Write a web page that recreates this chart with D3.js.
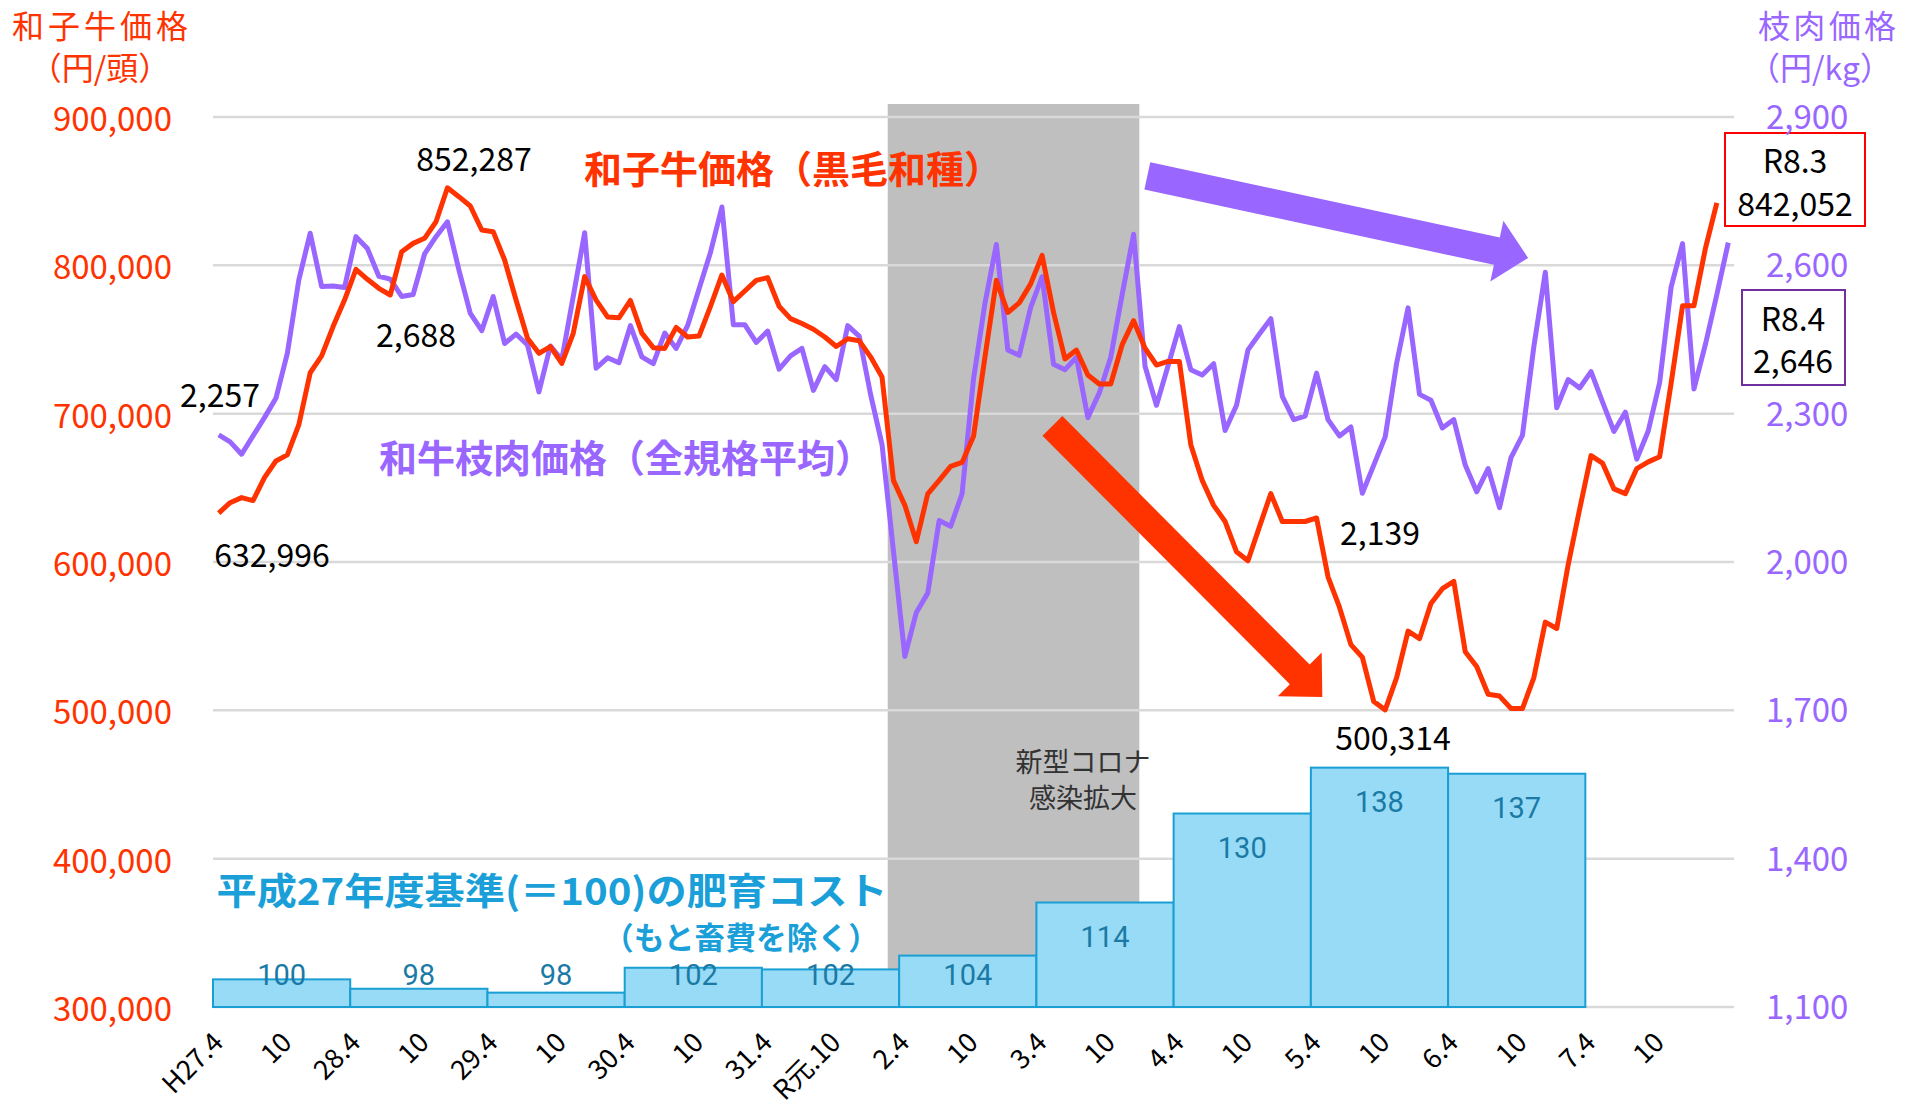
<!DOCTYPE html>
<html>
<head>
<meta charset="utf-8">
<script src="https://cdn.jsdelivr.net/npm/d3@7"></script>
<style>
  html, body { margin: 0; padding: 0; background: #fff; }
  svg { display: block; }
  text { font-family: "Noto Sans CJK JP", "Noto Sans", sans-serif; }
</style>
</head>
<body>
<div id="chart"></div>
<script>
// monthly, H27.4 .. R8.3 (red) / R8.4 (purple)
var calfPrice = [
  632996, 640000, 643400, 641400, 656900, 668100, 672200, 692400, 727600, 738900, 758700, 776600,
  797300, 790600, 784500, 780000, 809200, 814800, 818200, 829400, 852287, 846300, 840000, 823800,
  822700, 803600, 776600, 750800, 740700, 745200, 733900, 754200, 792400, 776600, 765200, 764600,
  776300, 754300, 744500, 744000, 758200, 751700, 752300, 772400, 793500, 775500, 782700, 789900,
  791700, 772400, 764100, 760800, 756900, 751700, 745300, 750500, 749200, 738300, 724700, 655000,
  638200, 613700, 646000, 655000, 664500, 667100, 684700, 738100, 789900, 768200, 774700, 787500,
  806700, 768200, 736900, 742900, 726100, 720000, 720000, 746500, 762700, 744100, 732800, 735200,
  735200, 679100, 655000, 638200, 627300, 606900, 600800, 623700, 646100, 627300, 627300, 627300,
  629700, 590000, 569500, 544300, 535800, 505900, 500314, 522100, 553400, 548300, 572000, 582000,
  586900, 539500, 529600, 510800, 509600, 501200, 501200, 522100, 559500, 555200, 598200, 635600,
  671700, 666700, 649300, 646100, 663000, 667500, 671000, 720400, 772700, 772700, 811400, 842052
];
var carcassPrice = [
  2257, 2243, 2218, 2255, 2292, 2331, 2422, 2570, 2665, 2557, 2558, 2555,
  2658, 2634, 2578, 2572, 2537, 2541, 2623, 2658, 2688, 2591, 2503, 2468,
  2537, 2442, 2461, 2439, 2344, 2437, 2409, 2537, 2666, 2392, 2413, 2403,
  2478, 2415, 2401, 2463, 2432, 2478, 2552, 2626, 2718, 2480, 2480, 2444,
  2467, 2390, 2417, 2432, 2347, 2395, 2369, 2478, 2457, 2339, 2238, 2022,
  1809, 1898, 1937, 2084, 2072, 2138, 2370, 2523, 2642, 2429, 2418, 2515,
  2577, 2400, 2389, 2414, 2292, 2342, 2414, 2541, 2663, 2396, 2317, 2396,
  2476, 2389, 2378, 2401, 2266, 2317, 2429, 2461, 2492, 2335, 2288, 2295,
  2382, 2288, 2255, 2273, 2139, 2196, 2253, 2402, 2514, 2339, 2327, 2271,
  2288, 2196, 2142, 2189, 2110, 2211, 2256, 2436, 2586, 2312, 2369, 2352,
  2385, 2324, 2264, 2303, 2208, 2265, 2363, 2556, 2644, 2350, 2440, 2541,
  2646
];
// fattening cost index by fiscal year (H27 = 100), H27 .. R6
var costIndex = [100.0, 98.3, 97.6, 102.1, 101.8, 104.3, 113.9, 130.0, 138.3, 137.2];

var tickLabels = ["H27.4", "10", "28.4", "10", "29.4", "10", "30.4", "10", "31.4", "R元.10",
  "2.4", "10", "3.4", "10", "4.4", "10", "5.4", "10", "6.4", "10", "7.4", "10"];
var leftTicks = [300000, 400000, 500000, 600000, 700000, 800000, 900000];
var rightTicks = [1100, 1400, 1700, 2000, 2300, 2600, 2900];

// labelled points: [month index, label x, label y]
var calfNotes = [[0, 272, 553], [20, 474, 157], [102, 1393, 736]];
var carcassNotes = [[0, 220, 393], [20, 416, 333], [100, 1380, 531]];
var covidBand = [59, 81];   // R2.3 .. R3.12

var W = 1916, H = 1109;
var RED = "#ff3300", PURPLE = "#9966ff", BLUE = "#1a9fd8";
var nMonths = carcassPrice.length;

var svg = d3.select("#chart").append("svg").attr("width", W).attr("height", H);

// month position (fractional months allowed for annotations)
var x = d3.scaleLinear().domain([0, nMonths]).range([213, 1734]);
var xc = function(i) { return x(i + 0.5); };
var yL = d3.scaleLinear().domain([300000, 900000]).range([1007, 117]);
var yR = d3.scaleLinear().domain([1100, 2900]).range([1007, 117]);
var yC = d3.scaleLinear().domain([95, 256]).range([1007, 117]);

// covid band
svg.append("rect")
  .attr("x", x(covidBand[0])).attr("width", x(covidBand[1]) - x(covidBand[0]))
  .attr("y", 104).attr("height", 1007 - 104)
  .attr("fill", "#bfbfbf");

// gridlines
svg.append("g").selectAll("line").data(leftTicks).enter().append("line")
  .attr("x1", 213).attr("x2", 1734)
  .attr("y1", function(d) { return yL(d); }).attr("y2", function(d) { return yL(d); })
  .attr("stroke", "#d9d9d9").attr("stroke-width", 2.5);

// cost bars
var bars = svg.append("g");
bars.selectAll("rect").data(costIndex).enter().append("rect")
  .attr("x", function(d, i) { return x(i * 12); })
  .attr("width", function(d, i) { return x(i * 12 + 12) - x(i * 12); })
  .attr("y", function(d) { return yC(d); })
  .attr("height", function(d) { return 1007 - yC(d); })
  .attr("fill", "#97dbf6").attr("stroke", "#1a9fd4").attr("stroke-width", 2);
bars.selectAll("text").data(costIndex).enter().append("text")
  .attr("x", function(d, i) { return x(i * 12 + 6); })
  .attr("y", function(d) { return Math.min(yC(d) + 34, 975); })
  .attr("text-anchor", "middle").attr("dominant-baseline", "central")
  .style("font-family", "'Liberation Sans Narrow', 'Roboto', sans-serif")
  .style("font-size", "29px").attr("fill", "#1b7aa5")
  .text(function(d) { return Math.round(d); });

// lines
var lineL = d3.line().x(function(d, i) { return xc(i); }).y(function(d) { return yL(d); });
var lineR = d3.line().x(function(d, i) { return xc(i); }).y(function(d) { return yR(d); });
svg.append("path").datum(carcassPrice).attr("d", lineR)
  .attr("fill", "none").attr("stroke", PURPLE).attr("stroke-width", 5).attr("stroke-linejoin", "round");
svg.append("path").datum(calfPrice).attr("d", lineL)
  .attr("fill", "none").attr("stroke", RED).attr("stroke-width", 5).attr("stroke-linejoin", "round");

// block arrows (tail / tip given in data space)
function arrow(x1, y1, x2, y2, color) {
  var dx = x2 - x1, dy = y2 - y1, len = Math.sqrt(dx * dx + dy * dy);
  var ux = dx / len, uy = dy / len, px = -uy, py = ux;
  var sw = 14, hw = 31, hl = 32;
  var bx = x2 - ux * hl, by = y2 - uy * hl;
  var pts = [
    [x1 + px * sw, y1 + py * sw], [bx + px * sw, by + py * sw], [bx + px * hw, by + py * hw],
    [x2, y2], [bx - px * hw, by - py * hw], [bx - px * sw, by - py * sw], [x1 - px * sw, y1 - py * sw]
  ];
  svg.append("polygon").attr("points", pts.map(function(p) { return p.join(","); }).join(" "))
    .attr("fill", color);
}
arrow(xc(72.9), yL(691700), xc(96.5), yL(509000), RED);
arrow(xc(81.2), yR(2781), xc(114.5), yR(2615), PURPLE);

function label(tx, ty, str, size, color, weight, anchor) {
  return svg.append("text").attr("x", tx).attr("y", ty)
    .attr("text-anchor", anchor || "middle").attr("dominant-baseline", "central")
    .style("font-size", size + "px").style("font-weight", weight || "normal")
    .attr("fill", color).text(str);
}

// latest value boxes
svg.append("rect").attr("x", 1725).attr("y", 133).attr("width", 140).attr("height", 93)
  .attr("fill", "none").attr("stroke", "#ff0000").attr("stroke-width", 2);
label(1795, 159, "R8.3", 32, "#000");
label(1795, 202, d3.format(",")(calfPrice[calfPrice.length - 1]), 32, "#000");
svg.append("rect").attr("x", 1742).attr("y", 290).attr("width", 103).attr("height", 95)
  .attr("fill", "none").attr("stroke", "#7030a0").attr("stroke-width", 2);
label(1793, 317, "R8.4", 32, "#000");
label(1793, 359, d3.format(",")(carcassPrice[carcassPrice.length - 1]), 32, "#000");

// axis ticks
svg.append("g").selectAll("text").data(leftTicks).enter().append("text")
  .attr("x", 172).attr("y", function(d) { return yL(d); })
  .attr("text-anchor", "end").attr("dominant-baseline", "central")
  .style("font-size", "33px").attr("fill", RED)
  .text(function(d) { return d3.format(",")(d); });
svg.append("g").selectAll("text").data(rightTicks).enter().append("text")
  .attr("x", 1766).attr("y", function(d) { return yR(d) - 2; })
  .attr("text-anchor", "start").attr("dominant-baseline", "central")
  .style("font-size", "33px").attr("fill", PURPLE)
  .text(function(d) { return d3.format(",")(d); });

svg.append("g").selectAll("text").data(tickLabels).enter().append("text")
  .attr("transform", function(d, i) { return "translate(" + (xc(i * 6) - 2) + ",1036) rotate(-45)"; })
  .attr("text-anchor", "end").attr("dominant-baseline", "central")
  .style("font-size", "27px").attr("fill", "#000")
  .text(function(d) { return d; });

// axis titles
label(100, 24, "和子牛価格", 32, RED).attr("textLength", 176);
label(100, 66, "（円/頭）", 32, RED);
label(1827, 24, "枝肉価格", 32, PURPLE).attr("textLength", 138);
label(1820, 66, "（円/kg）", 32, PURPLE);

// series labels
label(793, 166, "和子牛価格（黒毛和種）", 38, RED, "bold");
label(626, 455, "和牛枝肉価格（全規格平均）", 38, PURPLE, "bold");
label(552, 889, "平成27年度基準(＝100)の肥育コスト", 37, BLUE, "bold")
  .attr("textLength", 671).attr("lengthAdjust", "spacingAndGlyphs");
label(741, 935, "（もと畜費を除く）", 31, BLUE, "bold")
  .attr("textLength", 276).attr("lengthAdjust", "spacingAndGlyphs");
label(1083, 760, "新型コロナ", 27, "#333");
label(1083, 796, "感染拡大", 27, "#333");

// data point notes
calfNotes.forEach(function(n) { label(n[1], n[2], d3.format(",")(calfPrice[n[0]]), 32, "#000"); });
carcassNotes.forEach(function(n) { label(n[1], n[2], d3.format(",")(carcassPrice[n[0]]), 32, "#000"); });
</script>
</body>
</html>
